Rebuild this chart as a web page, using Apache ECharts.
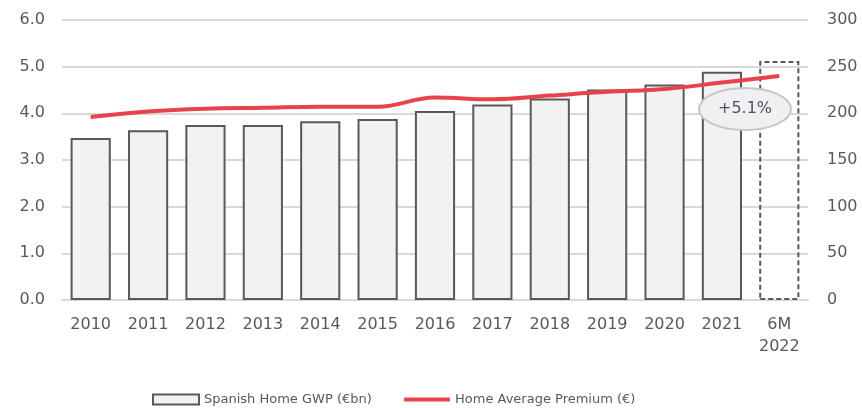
<!DOCTYPE html>
<html>
<head>
<meta charset="utf-8">
<script src="https://cdn.jsdelivr.net/npm/echarts@6/dist/echarts.min.js"></script>
<style>
  html, body { margin: 0; padding: 0; background: #fff; }
  #chart { width: 862px; height: 408px; }
</style>
</head>
<body>
<div id="chart"></div>
<script>
const years = ['2010', '2011', '2012', '2013', '2014', '2015', '2016', '2017', '2018', '2019', '2020', '2021', '6M\n2022']
const gwpValues = [3.47, 3.64, 3.75, 3.75, 3.83, 3.88, 4.05, 4.19, 4.32, 4.51, 4.62, 4.89, 5.12]
const premiumValues = [196, 202, 205, 206, 207, 207, 217, 215, 219, 223, 226, 233, 240]
const leftTicks = [0, 6, 1]
const rightTicks = [0, 300, 50]
const growthLabel = '+5.1%'

const font = 'DejaVu Sans'
const textColor = '#595959'
const red = '#e8434b'

const gwpData = gwpValues.map((v, i) => {
  if (i < gwpValues.length - 1) return v
  // last one is a half-year estimate, drawn as a dashed empty bar
  return {
    value: v,
    itemStyle: { color: 'rgba(255,255,255,0)', borderColor: '#595959', borderWidth: 2, borderType: [5, 3] }
  }
})

const legendText = { fontFamily: font, fontSize: 13, color: textColor }

const chart = echarts.init(document.getElementById('chart'))
chart.setOption({
  animation: false,
  textStyle: { fontFamily: font },
  grid: { left: 62, right: 54, top: 20, bottom: 108 },
  legend: [
    {
      top: 388,
      left: 147,
      itemWidth: 46,
      itemHeight: 10,
      textStyle: legendText,
      data: [{ name: 'Spanish Home GWP (€bn)', icon: 'rect' }]
    },
    {
      top: 388,
      left: 399,
      itemWidth: 46,
      itemHeight: 4,
      textStyle: legendText,
      data: [{ name: 'Home Average Premium (€)', icon: 'roundRect' }]
    }
  ],
  xAxis: {
    type: 'category',
    data: years,
    axisTick: { show: false },
    axisLine: { lineStyle: { color: '#d9d9d9', width: 2 } },
    axisLabel: { interval: 0, color: textColor, fontSize: 16, margin: 14, lineHeight: 22 }
  },
  yAxis: [
    {
      type: 'value',
      min: leftTicks[0],
      max: leftTicks[1],
      interval: leftTicks[2],
      axisLabel: { color: textColor, fontSize: 16, margin: 17, formatter: v => v.toFixed(1) },
      splitLine: { lineStyle: { color: '#d9d9d9', width: 2 } }
    },
    {
      type: 'value',
      min: rightTicks[0],
      max: rightTicks[1],
      interval: rightTicks[2],
      axisLabel: { color: textColor, fontSize: 16, margin: 19 },
      splitLine: { show: false }
    }
  ],
  series: [
    {
      name: 'Spanish Home GWP (€bn)',
      type: 'bar',
      barWidth: '70%',
      data: gwpData,
      itemStyle: { color: '#f2f2f2', borderColor: '#595959', borderWidth: 2 }
    },
    {
      name: 'Home Average Premium (€)',
      type: 'line',
      yAxisIndex: 1,
      smooth: 0.4,
      symbol: 'none',
      data: premiumValues,
      itemStyle: { color: red },
      lineStyle: { color: red, width: 4 }
    }
  ],
  graphic: [
    {
      type: 'ellipse',
      z: 100,
      shape: { cx: 745, cy: 109, rx: 46, ry: 21 },
      style: { fill: '#f0f0f0', stroke: '#c6c6c6', lineWidth: 2 }
    },
    {
      type: 'text',
      z: 101,
      x: 745,
      y: 109,
      style: {
        text: growthLabel,
        fill: '#4b5263',
        font: '16px ' + font,
        align: 'center',
        verticalAlign: 'middle'
      }
    }
  ]
})
</script>
</body>
</html>
